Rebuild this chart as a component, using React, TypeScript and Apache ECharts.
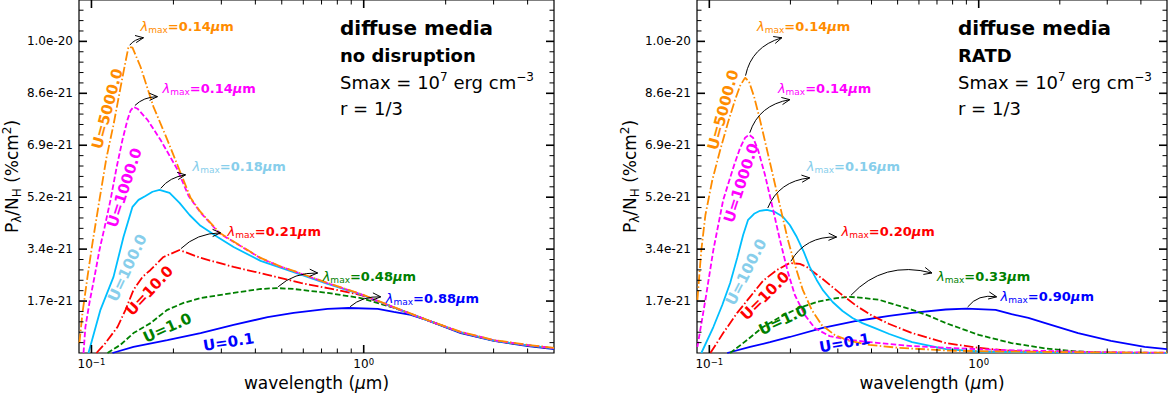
import { useEffect, useRef } from "react";
import * as echarts from "echarts";

type Pt = [number, number];

const FONT = "DejaVu Sans";

// P_λ/N_H in units of 1e-21 %cm², sampled against wavelength in μm.
// Diffuse media, no disruption.
const noDisU5000: Pt[] = [
  [0.0903, 0.33], [0.0927, 1.33], [0.0967, 2.52], [0.1009, 3.65], [0.107, 5.07], [0.1135, 6.46],
  [0.1205, 7.56], [0.1278, 8.78], [0.1334, 9.65], [0.1368, 10.14], [0.1415, 10.11], [0.1514, 9.48],
  [0.169, 8.15], [0.19, 7.06], [0.2124, 5.97], [0.2312, 5.14], [0.2516, 4.67], [0.2955, 3.98],
  [0.353, 3.55], [0.418, 3.15], [0.491, 2.88], [0.553, 2.72], [0.737, 2.32], [0.975, 1.96],
  [1.289, 1.52], [1.719, 1.09], [2.273, 0.7], [3.006, 0.43], [4.009, 0.27], [5.0, 0.17],
];
const noDisU1000: Pt[] = [
  [0.0935, 0], [0.095, 0.86], [0.0983, 1.66], [0.1026, 2.52], [0.107, 3.41], [0.1116, 4.14],
  [0.1175, 5.07], [0.1236, 6.13], [0.13, 7.06], [0.1356, 7.72], [0.1391, 8.02], [0.1427, 8.15],
  [0.1476, 8.09], [0.1607, 7.72], [0.1793, 7.06], [0.2071, 6.07], [0.2274, 5.2], [0.2516, 4.65],
  [0.2955, 3.96], [0.353, 3.54], [0.418, 3.14], [0.491, 2.87], [0.553, 2.71], [0.737, 2.31],
  [0.975, 1.95], [1.289, 1.51], [1.719, 1.08], [2.273, 0.69], [3.006, 0.42], [4.009, 0.26], [5.0, 0.16],
];
const noDisU100: Pt[] = [
  [0.0975, 0], [0.1079, 1.43], [0.1205, 2.52], [0.1311, 3.84], [0.1415, 4.84], [0.1489, 5.07],
  [0.1579, 5.2], [0.1676, 5.34], [0.1778, 5.4], [0.1936, 5.3], [0.2106, 4.97], [0.2293, 4.57],
  [0.2516, 4.21], [0.2905, 3.84], [0.3327, 3.51], [0.418, 3.05], [0.553, 2.68], [0.737, 2.29],
  [0.975, 1.94], [1.289, 1.51], [1.719, 1.08], [2.273, 0.68], [3.006, 0.41], [4.009, 0.25], [5.0, 0.15],
];
const noDisU10: Pt[] = [
  [0.1043, 0], [0.1126, 0.33], [0.1246, 0.86], [0.1334, 1.43], [0.1427, 2.09], [0.154, 2.52],
  [0.1648, 2.75], [0.1839, 3.18], [0.2106, 3.41], [0.2516, 3.15], [0.3327, 2.85], [0.4437, 2.59],
  [0.5868, 2.32], [0.737, 2.15], [0.975, 1.92], [1.289, 1.51], [1.719, 1.08], [2.273, 0.68],
  [3.006, 0.41], [4.009, 0.25], [5.0, 0.15],
];
const noDisU1: Pt[] = [
  [0.1145, 0], [0.1278, 0.27], [0.1427, 0.66], [0.1648, 0.99], [0.19, 1.43], [0.2179, 1.66],
  [0.2516, 1.82], [0.3327, 1.99], [0.418, 2.12], [0.479, 2.15], [0.553, 2.12], [0.737, 1.99],
  [0.975, 1.82], [1.289, 1.5], [1.719, 1.08], [2.273, 0.68], [3.006, 0.41], [4.009, 0.25], [5.0, 0.15],
];
const noDisU01: Pt[] = [
  [0.1194, 0], [0.1427, 0.2], [0.19, 0.43], [0.2516, 0.66], [0.3327, 0.93], [0.4437, 1.19],
  [0.553, 1.33], [0.737, 1.46], [0.88, 1.49], [1.126, 1.46], [1.289, 1.36], [1.489, 1.26],
  [1.719, 1.08], [2.273, 0.66], [3.006, 0.4], [4.009, 0.23], [5.0, 0.13],
];

// Diffuse media with rotational disruption (RATD).
const ratdU5000: Pt[] = [
  [0.0903, 1.76], [0.0934, 3.41], [0.0967, 4.57], [0.1026, 5.73], [0.1098, 6.73], [0.1175, 7.66],
  [0.1247, 8.39], [0.1301, 8.85], [0.1358, 9.12], [0.1405, 8.98], [0.1466, 8.49], [0.1542, 7.72],
  [0.1637, 6.73], [0.1738, 5.73], [0.1844, 4.74], [0.1957, 3.75], [0.2077, 2.92], [0.2223, 2.09],
  [0.2399, 1.43], [0.2612, 0.93], [0.2917, 0.6], [0.3314, 0.4], [0.3928, 0.27], [0.507, 0.17],
  [0.775, 0.08], [1.185, 0.05], [2.772, 0.02], [5.0, 0.01],
];
const ratdU1000: Pt[] = [
  [0.0903, 0.2], [0.0967, 1.76], [0.1035, 3.41], [0.1126, 5.07], [0.1237, 6.23], [0.1301, 6.79],
  [0.1358, 7.13], [0.1405, 7.23], [0.1453, 7.13], [0.1516, 6.73], [0.1609, 5.9], [0.1708, 4.91],
  [0.1828, 3.75], [0.1957, 2.68], [0.2077, 1.92], [0.2261, 1.26], [0.246, 0.83], [0.2796, 0.56],
  [0.3314, 0.43], [0.4276, 0.33], [0.566, 0.23], [0.775, 0.17], [1.185, 0.1], [2.772, 0.03], [5.0, 0.01],
];
const ratdU100: Pt[] = [
  [0.0934, 0], [0.1035, 0.86], [0.1117, 1.59], [0.1195, 2.32], [0.1269, 3.15], [0.1335, 3.91],
  [0.1393, 4.41], [0.1466, 4.61], [0.1542, 4.71], [0.1637, 4.74], [0.1752, 4.67], [0.1876, 4.51],
  [0.199, 4.24], [0.2112, 3.84], [0.2242, 3.35], [0.2359, 2.85], [0.2503, 2.42], [0.2635, 2.09],
  [0.2869, 1.69], [0.3123, 1.39], [0.34, 1.16], [0.37, 0.99], [0.41, 0.83], [0.4656, 0.63],
  [0.566, 0.36], [0.755, 0.13], [1.0, 0.05], [1.813, 0.02], [5.0, 0.0],
];
const ratdU10: Pt[] = [
  [0.1009, 0], [0.1126, 0.66], [0.1269, 1.33], [0.1417, 1.86], [0.1582, 2.39], [0.1782, 2.75],
  [0.199, 2.98], [0.2167, 2.95], [0.2299, 2.85], [0.2635, 2.45], [0.3044, 1.99], [0.3517, 1.56],
  [0.403, 1.23], [0.4656, 0.96], [0.566, 0.66], [0.755, 0.33], [1.0, 0.17], [1.324, 0.07],
  [1.767, 0.02], [5.0, 0.0],
];
const ratdU1: Pt[] = [
  [0.1195, 0], [0.1381, 0.43], [0.1582, 0.86], [0.1828, 1.19], [0.2112, 1.46], [0.2503, 1.69],
  [0.2968, 1.82], [0.3314, 1.86], [0.3764, 1.82], [0.4276, 1.76], [0.494, 1.59], [0.566, 1.43],
  [0.654, 1.23], [0.755, 0.99], [0.866, 0.8], [1.0, 0.6], [1.324, 0.33], [1.767, 0.15],
  [2.339, 0.05], [3.096, 0.0], [5.0, 0.0],
];
const ratdU01: Pt[] = [
  [0.1165, 0], [0.1417, 0.2], [0.1679, 0.36], [0.199, 0.53], [0.2635, 0.83], [0.3517, 1.06],
  [0.4656, 1.23], [0.566, 1.33], [0.755, 1.44], [0.9, 1.47], [1.155, 1.43], [1.324, 1.29],
  [1.529, 1.16], [1.767, 0.99], [2.339, 0.66], [3.096, 0.4], [4.132, 0.2], [5.0, 0.13],
];

const uLabels = ["U=5000.0", "U=1000.0", "U=100.0", "U=10.0", "U=1.0", "U=0.1"];
const lineColors = ["#ff8c00", "#ff00ff", "#00bfff", "#ff0000", "#008000", "#0000ff"];
const textColors = ["#ff8c00", "#ff00ff", "#87ceeb", "#ff0000", "#008000", "#0000ff"];
const dashDot = [9.6, 2.4, 1.5, 2.4];
const dashed = [5.5, 2.4];
const lineDashes: any[] = [dashDot, dashed, "solid", dashDot, dashed, "solid"];

// Where the U labels sit (wavelength, value) and their tilt in degrees.
const noDisULabelAt: Pt[] = [[0.1145, 8.09], [0.1322, 5.47], [0.1356, 2.82], [0.1634, 2.06], [0.19, 0.83], [0.319, 0.36]];
const noDisULabelAngle = [75, 72, 65, 47, 24, 9];
const ratdULabelAt: Pt[] = [[0.1126, 8.05], [0.1313, 5.63], [0.1369, 2.68], [0.161, 1.89], [0.1875, 1.09], [0.3176, 0.33]];
const ratdULabelAngle = [75, 72, 63, 45, 25, 10];

// λmax annotation text anchors and arrow tips.
const noDisPeakTextAt: Pt[] = [[0.1514, 10.81], [0.1824, 8.75], [0.2351, 6.17], [0.3162, 4.04], [0.7068, 2.52], [1.2045, 1.82]];
const noDisArrowTo: Pt[] = [[0.1553, 10.44], [0.1748, 8.49], [0.2216, 5.9], [0.2981, 3.98], [0.6774, 2.65], [1.1548, 1.86]];
const ratdPeakTextAt: Pt[] = [[0.1503, 10.81], [0.1797, 8.75], [0.2299, 6.17], [0.3095, 4.04], [0.6998, 2.52], [1.2053, 1.86]];
const ratdArrowTo: Pt[] = [[0.1859, 10.44], [0.199, 8.39], [0.2359, 5.8], [0.2968, 3.84], [0.6708, 2.65], [1.1652, 1.86]];

const panelHeadings = [["diffuse media", "no disruption"], ["diffuse media", "RATD"]];

// Axis ranges and tick positions.
const lambdaMin = 0.09;
const lambdaMax = 5;
const yMax = 11.69;
const yStep = 1.72;
const xMajorTicks = [0.1, 1];
const xMinorTicks = [0.2, 0.3, 0.4, 0.5, 0.6, 0.7, 0.8, 0.9, 2, 3, 4];
const yMajorTicks: number[] = [];
const yMinorTicks: number[] = [];
for (let k = 1; (k * yStep) / 5 < yMax; k++) {
  if (k % 5 === 0) yMajorTicks.push((k / 5) * yStep);
  else yMinorTicks.push((k * yStep) / 5);
}

const grids = [
  { left: 79, top: 0, width: 475, height: 353 },
  { left: 697, top: 0, width: 473, height: 353 },
];

const peakOf = (d: Pt[]): Pt => d.reduce((a, b) => (b[1] > a[1] ? b : a));

function tickSeries(idx: number) {
  return {
    type: "custom",
    xAxisIndex: idx,
    yAxisIndex: idx,
    silent: true,
    z: 10,
    data: [[1, 1]],
    renderItem: (params: any, api: any) => {
      const cs = params.coordSys;
      const bottom = cs.y + cs.height;
      const right = cs.x + cs.width;
      const children: any[] = [];
      const seg = (x1: number, y1: number, x2: number, y2: number, w: number) =>
        children.push({ type: "line", shape: { x1, y1, x2, y2 }, style: { stroke: "#000", lineWidth: w } });
      const xt = (list: number[], len: number, w: number) =>
        list.forEach((t) => {
          const px = api.coord([t, 1])[0];
          seg(px, bottom, px, bottom - len, w);
          seg(px, cs.y, px, cs.y + len, w);
        });
      const yt = (list: number[], len: number, w: number) =>
        list.forEach((t) => {
          const py = api.coord([1, t])[1];
          seg(cs.x, py, cs.x + len, py, w);
          seg(right, py, right - len, py, w);
        });
      xt(xMajorTicks, 8, 1.6);
      xt(xMinorTicks, 4.5, 1);
      yt(yMajorTicks, 8, 1.6);
      yt(yMinorTicks, 4.5, 1);
      return { type: "group", children };
    },
  };
}

function panelSeries(
  idx: number,
  curves: Pt[][],
  uAt: Pt[],
  uAngle: number[],
  textAt: Pt[],
  arrowTo: Pt[],
  rad: number
) {
  const series: any[] = [];
  for (let i = curves.length - 1; i >= 0; i--) {
    series.push({
      type: "line",
      name: uLabels[i],
      xAxisIndex: idx,
      yAxisIndex: idx,
      data: curves[i],
      showSymbol: false,
      symbol: "none",
      silent: true,
      z: 2,
      lineStyle: { color: lineColors[i], width: 1.8, type: lineDashes[i], cap: "butt" },
    });
  }
  const peaks = curves.map(peakOf);

  // arrows from each curve's maximum to its λmax label
  series.push({
    type: "custom",
    xAxisIndex: idx,
    yAxisIndex: idx,
    silent: true,
    z: 6,
    encode: { x: [0, 2], y: [1, 3] },
    data: peaks.map((p, i) => [p[0], p[1], arrowTo[i][0], arrowTo[i][1]]),
    renderItem: (params: any, api: any) => {
      let [x1, y1] = api.coord([api.value(0), api.value(1)]);
      const [x2, y2] = api.coord([api.value(2), api.value(3)]);
      const dx = x2 - x1;
      const dy = y2 - y1;
      const cx = (x1 + x2) / 2 - rad * dy;
      const cy = (y1 + y2) / 2 + rad * dx;
      const s0 = Math.hypot(cx - x1, cy - y1) || 1;
      x1 += (2 * (cx - x1)) / s0;
      y1 += (2 * (cy - y1)) / s0;
      const ex = x2 - cx;
      const ey = y2 - cy;
      const el = Math.hypot(ex, ey) || 1;
      const ux = ex / el;
      const uy = ey / el;
      const hl = 8;
      const hw = 3.6;
      return {
        type: "group",
        children: [
          {
            type: "bezierCurve",
            shape: { x1, y1, x2, y2, cpx1: cx, cpy1: cy },
            style: { stroke: "#000", lineWidth: 1, fill: null },
          },
          {
            type: "polyline",
            shape: {
              points: [
                [x2 - hl * ux + hw * uy, y2 - hl * uy - hw * ux],
                [x2, y2],
                [x2 - hl * ux - hw * uy, y2 - hl * uy + hw * ux],
              ],
            },
            style: { stroke: "#000", lineWidth: 1, fill: null },
          },
        ],
      };
    },
  });

  // λmax labels
  series.push({
    type: "custom",
    xAxisIndex: idx,
    yAxisIndex: idx,
    silent: true,
    z: 7,
    data: textAt,
    renderItem: (params: any, api: any) => {
      const i = params.dataIndex;
      const c = textColors[i];
      const [x, y] = api.coord([api.value(0), api.value(1)]);
      return {
        type: "text",
        x,
        y,
        style: {
          text: `{l|λ}{s|max}{b|=${peaks[i][0].toFixed(2)}}{mu|μ}{b|m}`,
          fill: c,
          align: "left",
          textAlign: "left",
          verticalAlign: "middle",
          textVerticalAlign: "middle",
          rich: {
            l: { fill: c, fontSize: 13, fontFamily: FONT, fontStyle: "italic", lineHeight: 16 },
            s: { fill: c, fontSize: 9, fontFamily: FONT, lineHeight: 8, verticalAlign: "bottom" },
            b: { fill: c, fontSize: 13, fontFamily: FONT, fontWeight: "bold", lineHeight: 16 },
            mu: { fill: c, fontSize: 13, fontFamily: FONT, fontWeight: "bold", fontStyle: "italic", lineHeight: 16 },
          },
        },
      };
    },
  });

  // U labels along the curves
  series.push({
    type: "custom",
    xAxisIndex: idx,
    yAxisIndex: idx,
    silent: true,
    z: 7,
    data: uAt,
    renderItem: (params: any, api: any) => {
      const i = params.dataIndex;
      const [x, y] = api.coord([api.value(0), api.value(1)]);
      return {
        type: "text",
        x,
        y,
        rotation: (uAngle[i] * Math.PI) / 180,
        style: {
          text: uLabels[i],
          fill: textColors[i],
          font: `bold 15px "${FONT}"`,
          align: "center",
          textAlign: "center",
          verticalAlign: "middle",
          textVerticalAlign: "middle",
        },
      };
    },
  });

  series.push(tickSeries(idx));
  return series;
}

function xAxisFor(idx: number) {
  return {
    type: "log",
    logBase: 10,
    gridIndex: idx,
    min: lambdaMin,
    max: lambdaMax,
    axisLine: { show: false },
    axisTick: { show: false },
    splitLine: { show: false },
    minorTick: { show: false },
    axisLabel: {
      margin: 4,
      color: "#000",
      fontFamily: FONT,
      fontSize: 12,
      formatter: (v: number) => {
        const e = Math.log10(v);
        const r = Math.round(e);
        if (Math.abs(e - r) > 1e-6) return "";
        return `{b|10}{sup|${r < 0 ? "−" : ""}${Math.abs(r)}}`;
      },
      rich: {
        b: { fontSize: 12, fontFamily: FONT, color: "#000", lineHeight: 14 },
        sup: { fontSize: 8.5, fontFamily: FONT, color: "#000", lineHeight: 9, verticalAlign: "top" },
      },
    },
    name: "{n|wavelength (}{mu|μ}{n|m)}",
    nameLocation: "middle",
    nameGap: 21,
    nameTextStyle: {
      fontSize: 17,
      fontFamily: FONT,
      color: "#000",
      rich: {
        n: { fontSize: 17, fontFamily: FONT, color: "#000" },
        mu: { fontSize: 17, fontFamily: FONT, color: "#000", fontStyle: "italic" },
      },
    },
  };
}

function yAxisFor(idx: number) {
  return {
    type: "value",
    gridIndex: idx,
    min: 0,
    max: yMax,
    interval: yStep,
    axisLine: { show: false },
    axisTick: { show: false },
    splitLine: { show: false },
    axisLabel: {
      margin: 6,
      color: "#000",
      fontFamily: FONT,
      fontSize: 12,
      formatter: (v: number) => {
        const k = v / yStep;
        if (v <= 0 || Math.abs(k - Math.round(k)) > 1e-6) return "";
        return (v * 1e-21).toExponential(1);
      },
    },
    name: "{n|P}{sub|λ}{n|/N}{sub|H}{n| (%cm}{sup|2}{n|)}",
    nameLocation: "middle",
    nameRotate: 90,
    nameGap: 50,
    nameTextStyle: {
      fontSize: 17,
      fontFamily: FONT,
      color: "#000",
      rich: {
        n: { fontSize: 17, fontFamily: FONT, color: "#000", lineHeight: 22 },
        sub: { fontSize: 12, fontFamily: FONT, color: "#000", lineHeight: 10, verticalAlign: "bottom" },
        sup: { fontSize: 12, fontFamily: FONT, color: "#000", lineHeight: 12, verticalAlign: "top" },
      },
    },
  };
}

function headingGraphics(idx: number) {
  const x = grids[idx].left + 261;
  const [title, sub] = panelHeadings[idx];
  const plain = (text: string, y: number, font: string, extra: any = {}) => ({
    type: "text",
    x,
    y,
    silent: true,
    style: {
      text,
      font,
      fill: "#000",
      align: "left",
      textAlign: "left",
      verticalAlign: "middle",
      textVerticalAlign: "middle",
      ...extra,
    },
  });
  return [
    plain(title, 28, `bold 20px "${FONT}"`),
    plain(sub, 55.5, `bold 18px "${FONT}"`),
    plain("{n|Smax = 10}{sup|7}{n| erg cm}{sup|−3}", 82, `18px "${FONT}"`, {
      rich: {
        n: { fontSize: 18, fontFamily: FONT, fill: "#000", lineHeight: 22 },
        sup: { fontSize: 12, fontFamily: FONT, fill: "#000", lineHeight: 12, verticalAlign: "top" },
      },
    }),
    plain("r = 1/3", 108.8, `18px "${FONT}"`),
  ];
}

const noDisCurves = [noDisU5000, noDisU1000, noDisU100, noDisU10, noDisU1, noDisU01];
const ratdCurves = [ratdU5000, ratdU1000, ratdU100, ratdU10, ratdU1, ratdU01];

function buildOption() {
  return {
    animation: false,
    backgroundColor: "#fff",
    textStyle: { fontFamily: FONT },
    grid: grids.map((g) => ({
      ...g,
      show: true,
      borderColor: "#000",
      borderWidth: 1.2,
      backgroundColor: "transparent",
      containLabel: false,
    })),
    xAxis: [xAxisFor(0), xAxisFor(1)],
    yAxis: [yAxisFor(0), yAxisFor(1)],
    graphic: [...headingGraphics(0), ...headingGraphics(1)],
    series: [
      ...panelSeries(0, noDisCurves, noDisULabelAt, noDisULabelAngle, noDisPeakTextAt, noDisArrowTo, -0.2),
      ...panelSeries(1, ratdCurves, ratdULabelAt, ratdULabelAngle, ratdPeakTextAt, ratdArrowTo, -0.3),
    ],
  };
}

export default function App() {
  const ref = useRef<HTMLDivElement>(null);
  useEffect(() => {
    if (!ref.current) return;
    const chart = echarts.init(ref.current, undefined, { renderer: "svg" });
    chart.setOption(buildOption() as any);
    return () => chart.dispose();
  }, []);
  return (
    <div
      ref={ref}
      style={{ position: "fixed", left: 0, top: 0, width: 1170, height: 400, background: "#fff" }}
    />
  );
}
